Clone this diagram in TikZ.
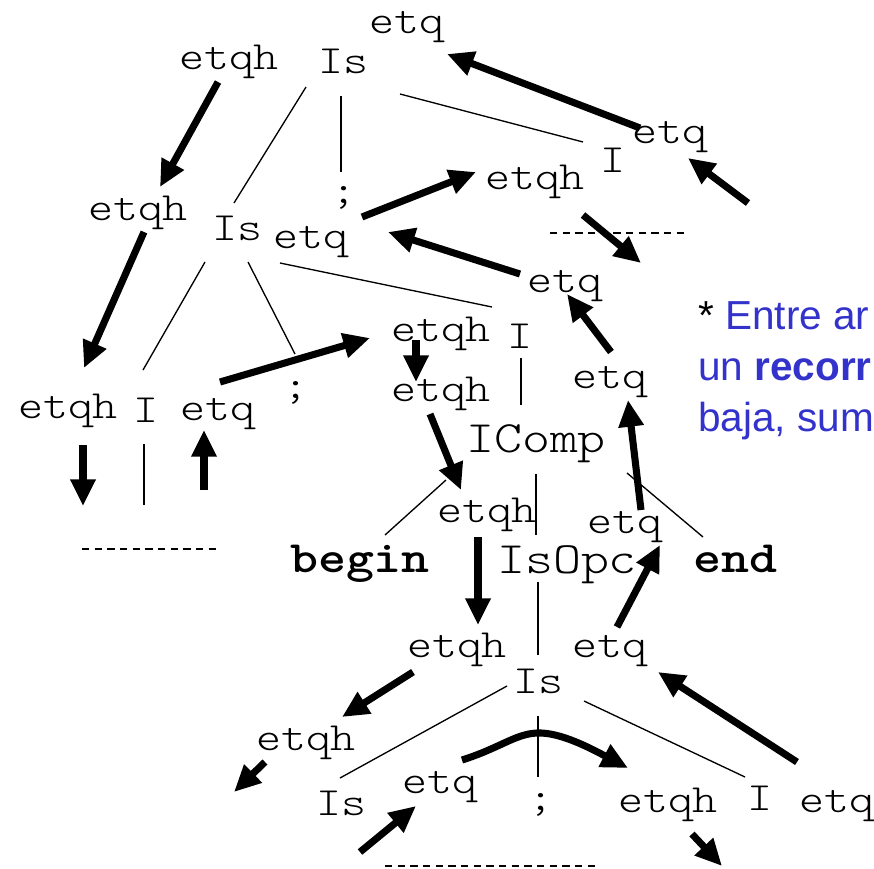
\documentclass[tikz,border=0pt]{standalone}
\usepackage{fontspec}
\newfontfamily\cour{lmmonolt10-regular.otf}[FakeStretch=1.19, BoldFont=lmmonolt10-bold.otf]
\newfontfamily\arialf{Liberation Sans}
\usetikzlibrary{arrows.meta}
\definecolor{blu}{RGB}{51,51,204}
\begin{document}
\begin{tikzpicture}[x=0.75pt,y=-0.75pt,
 lbl/.style={font=\cour\fontsize{30}{36}\selectfont, inner sep=0pt, anchor=base},
 big/.style={font=\cour\fontsize{33.6}{40}\selectfont, inner sep=0pt, anchor=base},
 bigb/.style={font=\cour\bfseries\fontsize{33.6}{40}\selectfont, inner sep=0pt, anchor=base},
 treeln/.style={line width=1pt},
 arr/.style={line width=5.3pt, -{Triangle[length=20pt,width=18pt]}},
 dashln/.style={line width=1.1pt, dash pattern=on 5.5pt off 4pt},
 note/.style={font=\arialf\fontsize{30.4}{38}\selectfont, text=blu, inner sep=0pt, anchor=base west}]
\useasboundingbox (0,0) rectangle (874,868);
% labels
\node[lbl] (etqA) at (407,33) {etq};
\node[lbl] (etqhA) at (229,69) {etqh};
\node[lbl] (IsA) at (343,73) {Is};
\node[lbl] (etqB) at (670,143) {etq};
\node[lbl] (IB) at (613,172) {I};
\node[lbl] (etqhB) at (535,189) {etqh};
\node[lbl] (semiA) at (344,203) {;};
\node[lbl] (etqhC) at (138,220) {etqh};
\node[lbl] (IsC) at (237,240) {Is};
\node[lbl] (etqC) at (311,248) {etq};
\node[lbl] (etqD) at (565,292) {etq};
\node[lbl] (etqhD) at (441,341) {etqh};
\node[lbl] (ID) at (520,348) {I};
\node[lbl] (etqE) at (610,388) {etq};
\node[lbl] (etqhE) at (441,401) {etqh};
\node[lbl] (etqhF) at (68,418) {etqh};
\node[lbl] (IF) at (146,422) {I};
\node[lbl] (etqF) at (218,420) {etq};
\node[lbl] (semiF) at (296,398) {;};
\node[big] (IComp) at (536,452) {IComp};
\node[lbl] (etqhG) at (487,522) {etqh};
\node[lbl] (etqG) at (625,533) {etq};
\node[bigb] (begin) at (360,572) {begin};
\node[big] (IsOpc) at (567,573) {IsOpc};
\node[bigb] (endk) at (735,572) {end};
\node[lbl] (etqhH) at (457,657) {etqh};
\node[lbl] (etqH) at (610,657) {etq};
\node[lbl] (IsH) at (538,693) {Is};
\node[lbl] (etqhI) at (306,750) {etqh};
\node[lbl] (IsJ) at (341,815) {Is};
\node[lbl] (etqJ) at (440,793) {etq};
\node[lbl] (semiJ) at (541,810) {;};
\node[lbl] (etqhK) at (668,812) {etqh};
\node[lbl] (IK) at (760,810) {I};
\node[lbl] (etqK) at (837,812) {etq};
% note
\node[note] (n1) at (698,329) {{\color{black}*} Entre ar};
\node[note] (n2) at (698,380) {un \textbf{recorr}};
\node[note] (n3) at (698,431) {baja, sum};
% tree lines
\foreach \i/\xa/\ya/\xb/\yb in {1/306/87/234/203, 2/341/96/341/172, 3/400/94/583/142,
  4/205/262/143/370, 5/248/262/295/354, 6/280/263/492/307,
  7/521/358/521/405, 8/446/480/385/535, 9/536/474/536/535,
  10/627/473/703/537, 11/144/444/144/505, 12/538/582/538/655,
  13/507/686/340/778, 14/538/716/538/777, 15/584/701/745/777}{
  \coordinate (ls\i) at (\xa,\ya); \coordinate (le\i) at (\xb,\yb);
  \draw[treeln] (ls\i) -- (le\i);
}
% dashed
\foreach \i/\xa/\ya/\xb/\yb in {1/550/233/686/233, 2/82/549/216/549, 3/385/866/598/866}{
  \coordinate (ds\i) at (\xa,\ya); \coordinate (de\i) at (\xb,\yb);
  \draw[dashln] (ds\i) -- (de\i);
}
% arrows
\foreach \i/\xa/\ya/\xb/\yb in {1/218/82/160/187, 2/144/232/84/368, 3/83/445/83/506,
  4/204/490/204/430, 5/220/382/370/338, 6/416/340/416/382,
  7/430/414/461/490, 8/478/537/478/625, 9/413/672/342/717,
  10/265/762/234/792, 11/360/852/416/806, 13/692/834/722/866,
  14/797/762/658/672, 15/617/627/660/545, 16/641/510/628/400,
  17/611/352/567/294, 18/520/274/388/232, 19/362/217/476/172,
  20/583/215/641/263, 21/748/203/688/158, 22/640/128/447/54}{
  \coordinate (as\i) at (\xa,\ya); \coordinate (ae\i) at (\xb,\yb);
  \draw[arr] (as\i) -- (ae\i);
}
\coordinate (cs) at (462,760);
\coordinate (cp) at (537,733);
\coordinate (ce) at (628,768);
\draw[arr] (cs) .. controls (500,748) and (515,734) .. (cp) .. controls (560,732) and (590,748) .. (ce);
\end{tikzpicture}
\end{document}
